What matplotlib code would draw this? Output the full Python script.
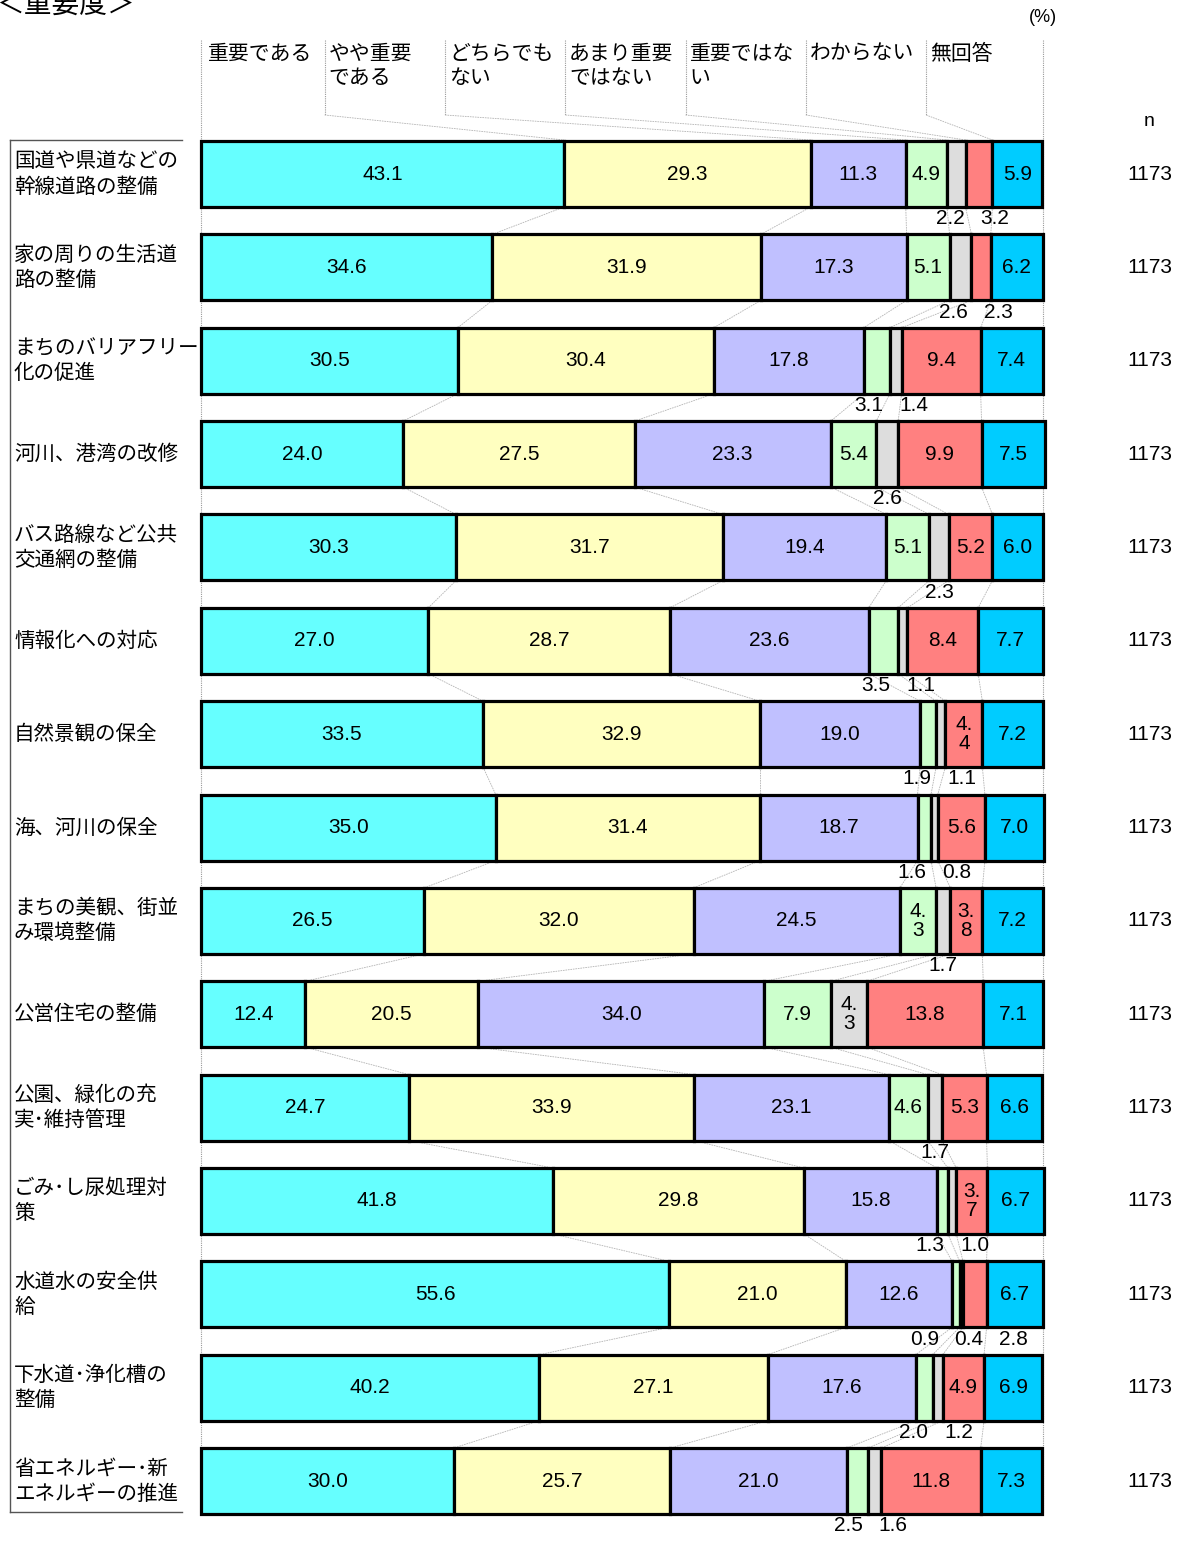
import numpy as np
import matplotlib
matplotlib.use("Agg")
import matplotlib.pyplot as plt

# ---- data -------------------------------------------------------------
categories = [
    "国道や県道などの\n幹線道路の整備",
    "家の周りの生活道\n路の整備",
    "まちのバリアフリー\n化の促進",
    "河川、港湾の改修",
    "バス路線など公共\n交通網の整備",
    "情報化への対応",
    "自然景観の保全",
    "海、河川の保全",
    "まちの美観、街並\nみ環境整備",
    "公営住宅の整備",
    "公園、緑化の充\n実･維持管理",
    "ごみ･し尿処理対\n策",
    "水道水の安全供\n給",
    "下水道･浄化槽の\n整備",
    "省エネルギー･新\nエネルギーの推進",
]
series_names = ["重要である", "やや重要\nである", "どちらでも\nない", "あまり重要\nではない",
                "重要ではな\nい", "わからない", "無回答"]

important = [43.1, 34.6, 30.5, 24.0, 30.3, 27.0, 33.5, 35.0, 26.5, 12.4, 24.7, 41.8, 55.6, 40.2, 30.0]
somewhat = [29.3, 31.9, 30.4, 27.5, 31.7, 28.7, 32.9, 31.4, 32.0, 20.5, 33.9, 29.8, 21.0, 27.1, 25.7]
neutral = [11.3, 17.3, 17.8, 23.3, 19.4, 23.6, 19.0, 18.7, 24.5, 34.0, 23.1, 15.8, 12.6, 17.6, 21.0]
not_very = [4.9, 5.1, 3.1, 5.4, 5.1, 3.5, 1.9, 1.6, 4.3, 7.9, 4.6, 1.3, 0.9, 2.0, 2.5]
not_imp = [2.2, 2.6, 1.4, 2.6, 2.3, 1.1, 1.1, 0.8, 1.7, 4.3, 1.7, 1.0, 0.4, 1.2, 1.6]
dont_know = [3.2, 2.3, 9.4, 9.9, 5.2, 8.4, 4.4, 5.6, 3.8, 13.8, 5.3, 3.7, 2.8, 4.9, 11.8]
no_answer = [5.9, 6.2, 7.4, 7.5, 6.0, 7.7, 7.2, 7.0, 7.2, 7.1, 6.6, 6.7, 6.7, 6.9, 7.3]
n_values = [1173] * 15

colors = ["#66FFFF", "#FFFFC0", "#C0C0FF", "#CCFFCC", "#DDDDDD", "#FF8080", "#00CCFF"]

# ---- layout helpers (pixel -> data) ------------------------------------
W, H = 1183, 1542
X0, XW = 201.0, 842.0          # left edge of 0 % and width of 100 %
Y0, DY = 174.0, 93.36          # centre of first row and row pitch


def X(px):
    return (px - X0) / XW * 100.0


def Y(py):
    return (py - Y0) / DY


JP = ["Noto Sans CJK JP", "DejaVu Sans"]
NUM = ["Liberation Sans", "Noto Sans CJK JP"]
num_fs = 15

fig = plt.figure(figsize=(W / 100, H / 100), dpi=100)
ax = fig.add_axes([0, 0, 1, 1])
ax.set_xlim(X(0), X(W))
ax.set_ylim(Y(H), Y(0))
ax.axis("off")

data = np.array([important, somewhat, neutral, not_very, not_imp, dont_know, no_answer]).T
nrows = len(categories)
rows = np.arange(nrows)
bar_h = 66 / DY

lefts = np.zeros(nrows)
for k in range(data.shape[1]):
    ax.barh(rows, data[:, k], left=lefts, height=bar_h, color=colors[k],
            edgecolor="black", linewidth=2.3, zorder=3)
    lefts = lefts + data[:, k]

cum = np.hstack([np.zeros((nrows, 1)), np.cumsum(data, axis=1)])

# series lines between consecutive bars
for i in range(nrows - 1):
    for k in range(1, data.shape[1]):
        ax.plot([cum[i, k], cum[i + 1, k]], [i + bar_h / 2, i + 1 - bar_h / 2],
                color="#B4B4B4", lw=0.6, ls=(0, (2, 1)), zorder=1)

# value labels
spacing = 5.3
for i in range(nrows):
    small = []
    for k in range(data.shape[1]):
        v = data[i, k]
        c = (cum[i, k] + cum[i, k + 1]) / 2
        if v <= 3.5:
            small.append((k, c, v))
        elif v < 4.5:
            s = f"{v:.1f}"
            ax.text(c, i, s[:2] + "\n" + s[2:], ha="center", va="center",
                    fontsize=num_fs, family=NUM, linespacing=1.0, zorder=4)
        else:
            ax.text(c, i, f"{v:.1f}", ha="center", va="center",
                    fontsize=num_fs, family=NUM, zorder=4)
    # spread labels placed below the bar so they do not collide
    groups = []
    for item in small:
        if groups and item[0] == groups[-1][-1][0] + 1:
            groups[-1].append(item)
        else:
            groups.append([item])
    for g in groups:
        cs = np.array([t[1] for t in g])
        if len(g) > 1 and np.min(np.diff(cs)) < spacing:
            m = cs.mean() + 0.6
            cs = m + (np.arange(len(g)) - (len(g) - 1) / 2) * spacing
        for (k, _, v), cx in zip(g, cs):
            ax.text(cx, i + 0.48, f"{v:.1f}", ha="center", va="center",
                    fontsize=num_fs, family=NUM, zorder=4)

# row labels and left bracket
for i, lab in enumerate(categories):
    ax.text(X(14), i, lab, ha="left", va="center", fontsize=14.8, family=JP,
            linespacing=1.18)
ax.plot([X(10), X(10)], [Y(140), Y(1512)], color="#555555", lw=1.0)
ax.plot([X(10), X(182)], [Y(140), Y(140)], color="#555555", lw=1.0)
ax.plot([X(10), X(182)], [Y(1512), Y(1512)], color="#555555", lw=1.0)

# vertical guides at 0 % and 100 %
for xv in (0, 100):
    ax.plot([xv, xv], [Y(40), Y(1512)], color="#9A9A9A", lw=0.8, ls=(0, (1, 1)), zorder=0)

# header: series names with leader lines to the first bar
ncol = len(series_names)
for k, name in enumerate(series_names):
    hx = k * 100.0 / ncol + 0.4
    ax.text(hx + X(205) - X(201), Y(43), name, ha="left", va="top", fontsize=15,
            family=JP, linespacing=1.12)
    if k > 0:
        ax.plot([hx, hx], [Y(40), Y(115)], color="#9A9A9A", lw=0.8, ls=(0, (1, 1)))
        ax.plot([hx, cum[0, k]], [Y(115), Y(140)], color="#B4B4B4", lw=0.6,
                ls=(0, (2, 1)))

# title, units and sample sizes
ax.text(X(-4), Y(5), "＜重要度＞", ha="left", va="center", fontsize=20, family=JP)
ax.text(X(1043), Y(18), "(%)", ha="center", va="center", fontsize=13, family=NUM)
ax.text(X(1149), Y(122), "n", ha="center", va="center", fontsize=14, family=NUM)
for i, n in enumerate(n_values):
    ax.text(X(1150), i, str(n), ha="center", va="center", fontsize=num_fs, family=NUM)

fig.savefig("out.png", dpi=100)
